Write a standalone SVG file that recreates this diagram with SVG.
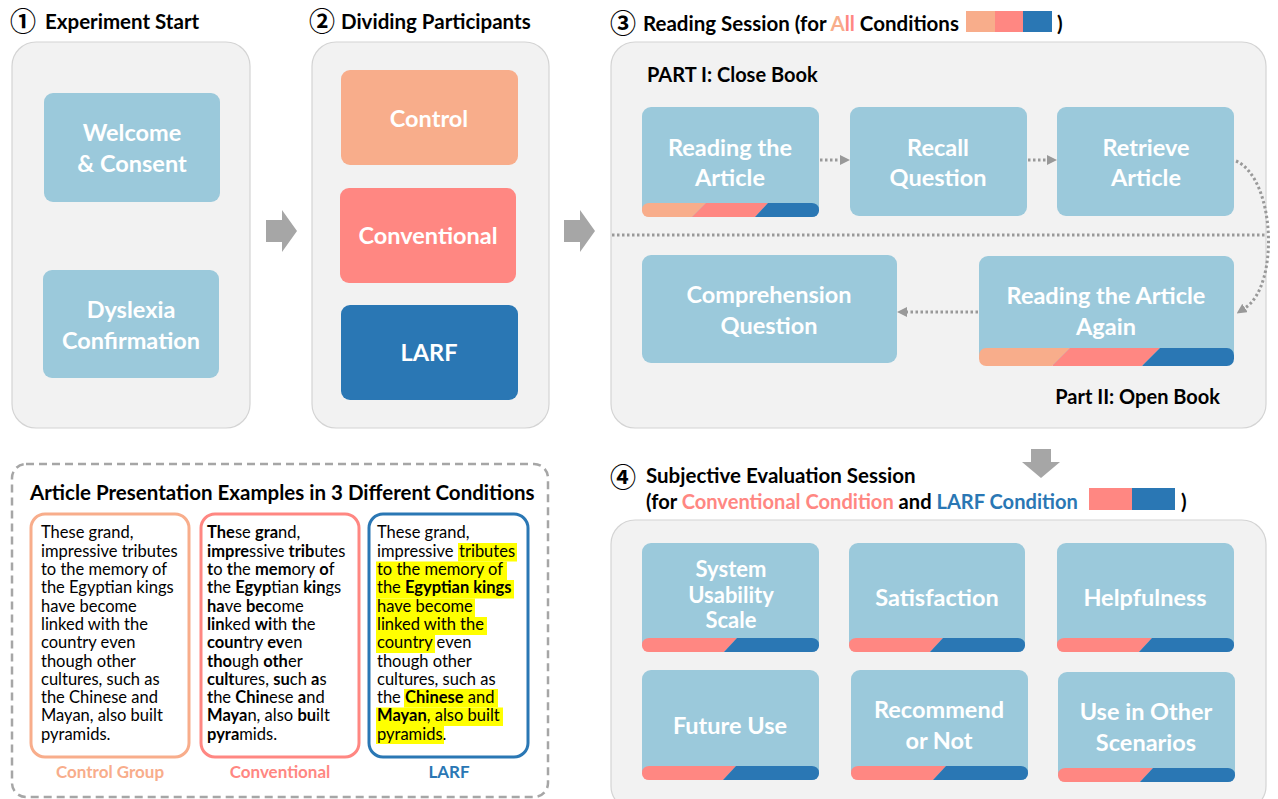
<svg xmlns="http://www.w3.org/2000/svg" width="1278" height="799" viewBox="0 0 1278 799">
<defs>
<style>
text{font-family:Lato,"Open Sans","Noto Sans",sans-serif}
.panel{fill:#f2f2f2;stroke:#d4d4d4;stroke-width:1.2}
.node{fill:#9bc9db}
.nt{fill:#fff;font-weight:700;font-size:23.5px;text-anchor:middle}
.hd{font-weight:700;font-size:20.5px;fill:#000}
.num{font-family:"Noto Sans CJK SC","DejaVu Sans",sans-serif;font-weight:700;font-size:26px;fill:#000}
.dot{fill:none;stroke:#999;stroke-width:3;stroke-dasharray:2.5 2.5}
.big{fill:#a6a6a6}
.art{font-size:16.5px;fill:#000}
.lab{font-size:17px;font-weight:700;text-anchor:middle}
.b{font-weight:700}
.sal{fill:#f8ad8b}
.pnk{fill:#ff8782}
.blu{fill:#2a77b4}
.hl{fill:#ffff00}
</style>
<marker id="ah" viewBox="0 0 10 10" refX="0" refY="5" markerWidth="10" markerHeight="10" markerUnits="userSpaceOnUse" orient="auto"><path d="M0,0 L10,5 L0,10 z" fill="#999"/></marker>
<clipPath id="cs" clipPathUnits="objectBoundingBox"><rect x="0" y="0" width="1" height="1" rx="0.04" ry="0.45"/></clipPath>
<clipPath id="cw" clipPathUnits="objectBoundingBox"><rect x="0" y="0" width="1" height="1" rx="0.028" ry="0.4"/></clipPath>
</defs>
<rect width="1278" height="799" fill="#fff"/>

<!-- headers -->
<g id="header1"><text class="num" x="10" y="31">①</text><text class="hd" x="45" y="29">Experiment Start</text></g>
<g id="header2"><text class="num" x="309" y="31">②</text><text class="hd" x="341" y="29">Dividing Participants</text></g>
<g id="header3"><text class="num" x="610" y="33">③</text><text class="hd" x="643" y="31">Reading Session (for <tspan class="sal">A</tspan><tspan class="pnk">l</tspan><tspan class="pnk">l</tspan> Conditions</text>
<rect x="966" y="11" width="29" height="21" class="sal"/><rect x="995" y="11" width="28" height="21" class="pnk"/><rect x="1023" y="11" width="29" height="21" class="blu"/>
<text class="hd" x="1057" y="31">)</text></g>
<g id="header4"><text class="num" x="610" y="487">④</text><text class="hd" x="646" y="483">Subjective Evaluation Session</text>
<text class="hd" x="646" y="509" style="font-size:20.1px">(for <tspan class="pnk">Conventional Condition</tspan> and <tspan class="blu">LARF Condition</tspan></text>
<rect x="1089" y="488" width="43" height="22" class="pnk"/><rect x="1132" y="488" width="43" height="22" class="blu"/>
<text class="hd" x="1181" y="509">)</text></g>

<!-- panels -->
<rect class="panel" x="12" y="42" width="238" height="386" rx="24"/>
<rect class="panel" x="312" y="42" width="237" height="386" rx="24"/>
<rect class="panel" x="611" y="42" width="655" height="386" rx="24"/>
<rect class="panel" x="611" y="520" width="655" height="290" rx="24"/>

<!-- panel 1 -->
<g id="welcome"><rect class="node" x="44" y="93" width="176" height="109" rx="9"/><text class="nt" x="132" y="141">Welcome</text><text class="nt" x="132" y="172">&amp; Consent</text></g>
<g id="dyslexia"><rect class="node" x="43" y="270" width="176" height="108" rx="9"/><text class="nt" x="131" y="318">Dyslexia</text><text class="nt" x="131" y="349">Confirmation</text></g>

<!-- panel 2 -->
<g id="control"><rect class="sal" x="341" y="70" width="177" height="95" rx="9"/><text class="nt" x="429" y="127">Control</text></g>
<g id="conventional"><rect class="pnk" x="340" y="188" width="176" height="95" rx="9"/><text class="nt" x="428" y="244">Conventional</text></g>
<g id="larf"><rect class="blu" x="341" y="305" width="177" height="95" rx="9"/><text class="nt" x="429" y="361">LARF</text></g>

<!-- panel 3 -->
<text class="hd" x="647" y="82" style="font-size:20px">PART I: Close Book</text>
<text class="hd" x="1220" y="404" style="font-size:20px;text-anchor:end">Part II: Open Book</text>
<g id="reading"><rect class="node" x="642" y="107" width="177" height="110" rx="9"/><text class="nt" x="730" y="156">Reading the</text><text class="nt" x="730" y="186">Article</text>
<g clip-path="url(#cs)"><polygon class="sal" points="642,203 706,203 692,217 642,217"/><polygon class="pnk" points="706,203 768,203 755,217 692,217"/><polygon class="blu" points="768,203 819,203 819,217 755,217"/></g></g>
<g id="recall"><rect class="node" x="850" y="107" width="177" height="109" rx="9"/><text class="nt" x="938" y="156">Recall</text><text class="nt" x="938" y="186">Question</text></g>
<g id="retrieve"><rect class="node" x="1057" y="107" width="177" height="109" rx="9"/><text class="nt" x="1146" y="156">Retrieve</text><text class="nt" x="1146" y="186">Article</text></g>
<g id="comprehension"><rect class="node" x="642" y="255" width="255" height="108" rx="9"/><text class="nt" x="769" y="303">Comprehension</text><text class="nt" x="769" y="334">Question</text></g>
<g id="reading-again"><rect class="node" x="979" y="256" width="255" height="109" rx="9"/><text class="nt" x="1106" y="304">Reading the Article</text><text class="nt" x="1106" y="335">Again</text>
<g clip-path="url(#cw)"><polygon class="sal" points="979,348 1070,348 1052,366 979,366"/><polygon class="pnk" points="1070,348 1160,348 1142,366 1052,366"/><polygon class="blu" points="1160,348 1234,348 1234,366 1142,366"/></g></g>

<!-- panel 4 -->
<g id="sus"><rect class="node" x="642" y="543" width="177" height="109" rx="9"/><text class="nt" x="731" y="577" style="font-size:22px">System</text><text class="nt" x="731" y="603" style="font-size:22px">Usability</text><text class="nt" x="731" y="628" style="font-size:22px">Scale</text>
<g clip-path="url(#cs)"><polygon class="pnk" points="642,638 737,638 724,652 642,652"/><polygon class="blu" points="737,638 819,638 819,652 724,652"/></g></g>
<g id="satisfaction"><rect class="node" x="849" y="543" width="176" height="109" rx="9"/><text class="nt" x="937" y="606">Satisfaction</text>
<g clip-path="url(#cs)"><polygon class="pnk" points="849,638 943,638 930,652 849,652"/><polygon class="blu" points="943,638 1025,638 1025,652 930,652"/></g></g>
<g id="helpfulness"><rect class="node" x="1057" y="543" width="177" height="109" rx="9"/><text class="nt" x="1145" y="606">Helpfulness</text>
<g clip-path="url(#cs)"><polygon class="pnk" points="1057,638 1152,638 1139,652 1057,652"/><polygon class="blu" points="1152,638 1234,638 1234,652 1139,652"/></g></g>
<g id="future"><rect class="node" x="642" y="670" width="177" height="110" rx="9"/><text class="nt" x="730" y="734">Future Use</text>
<g clip-path="url(#cs)"><polygon class="pnk" points="642,766 736,766 723,780 642,780"/><polygon class="blu" points="736,766 819,766 819,780 723,780"/></g></g>
<g id="recommend"><rect class="node" x="851" y="670" width="177" height="110" rx="9"/><text class="nt" x="939" y="718">Recommend</text><text class="nt" x="939" y="749">or Not</text>
<g clip-path="url(#cs)"><polygon class="pnk" points="851,766 946,766 933,780 851,780"/><polygon class="blu" points="946,766 1028,766 1028,780 933,780"/></g></g>
<g id="other"><rect class="node" x="1058" y="672" width="177" height="110" rx="9"/><text class="nt" x="1146" y="720">Use in Other</text><text class="nt" x="1146" y="751">Scenarios</text>
<g clip-path="url(#cs)"><polygon class="pnk" points="1058,768 1153,768 1140,782 1058,782"/><polygon class="blu" points="1153,768 1235,768 1235,782 1140,782"/></g></g>

<!-- connectors -->
<g id="connectors">
<path class="big" d="M266,220 H282 V210 L297,231 L282,252 V242 H266 Z"/>
<path class="big" d="M564,220 H580 V210 L595,231 L580,252 V242 H564 Z"/>
<path class="big" d="M1031,449 H1051 V462 H1060 L1041,478 L1022,462 H1031 Z"/>
<line class="dot" x1="612" y1="235" x2="1265" y2="235"/>
<path class="dot" d="M820,160 H840" marker-end="url(#ah)"/>
<path class="dot" d="M1028,160 H1047" marker-end="url(#ah)"/>
<path class="dot" d="M1236,161 C1275,178 1280,285 1245,308" marker-end="url(#ah)"/>
<path class="dot" d="M978,312 H907" marker-end="url(#ah)"/>
</g>

<!-- article examples -->
<g id="article-examples">
<rect x="12" y="464" width="536" height="333" rx="14" fill="none" stroke="#a6a6a6" stroke-width="2.5" stroke-dasharray="8 5"/>
<text class="hd" x="30" y="500">Article Presentation Examples in 3 Different Conditions</text>
<rect x="31" y="514" width="158" height="243" rx="14" fill="#fff" stroke="#f8ad8b" stroke-width="3"/>
<rect x="201" y="514" width="158" height="243" rx="14" fill="#fff" stroke="#ff8782" stroke-width="3"/>
<rect x="369" y="514" width="159" height="243" rx="14" fill="#fff" stroke="#2a77b4" stroke-width="3"/>
<text class="art">
<tspan x="41" y="538">These grand,</tspan>
<tspan x="41" y="557">impressive tributes</tspan>
<tspan x="41" y="575">to the memory of</tspan>
<tspan x="41" y="593">the Egyptian kings</tspan>
<tspan x="41" y="612">have become</tspan>
<tspan x="41" y="630">linked with the</tspan>
<tspan x="41" y="648">country even</tspan>
<tspan x="41" y="667">though other</tspan>
<tspan x="41" y="685">cultures, such as</tspan>
<tspan x="41" y="703">the Chinese and</tspan>
<tspan x="41" y="721">Mayan, also built</tspan>
<tspan x="41" y="740">pyramids.</tspan>
</text>
<text class="art">
<tspan x="207" y="538"><tspan class="b">The</tspan>se <tspan class="b">gra</tspan>nd,</tspan>
<tspan x="207" y="557"><tspan class="b">impre</tspan>ssive <tspan class="b">trib</tspan>utes</tspan>
<tspan x="207" y="575"><tspan class="b">t</tspan>o <tspan class="b">t</tspan>he <tspan class="b">mem</tspan>ory <tspan class="b">o</tspan>f</tspan>
<tspan x="207" y="593"><tspan class="b">t</tspan>he <tspan class="b">Egyp</tspan>tian <tspan class="b">kin</tspan>gs</tspan>
<tspan x="207" y="612"><tspan class="b">ha</tspan>ve <tspan class="b">bec</tspan>ome</tspan>
<tspan x="207" y="630"><tspan class="b">lin</tspan>ked <tspan class="b">wi</tspan>th <tspan class="b">t</tspan>he</tspan>
<tspan x="207" y="648"><tspan class="b">coun</tspan>try <tspan class="b">ev</tspan>en</tspan>
<tspan x="207" y="667"><tspan class="b">tho</tspan>ugh <tspan class="b">oth</tspan>er</tspan>
<tspan x="207" y="685"><tspan class="b">cult</tspan>ures, <tspan class="b">su</tspan>ch <tspan class="b">a</tspan>s</tspan>
<tspan x="207" y="703"><tspan class="b">t</tspan>he <tspan class="b">Chin</tspan>ese <tspan class="b">a</tspan>nd</tspan>
<tspan x="207" y="721"><tspan class="b">Maya</tspan>n, also <tspan class="b">bu</tspan>ilt</tspan>
<tspan x="207" y="740"><tspan class="b">pyra</tspan>mids.</tspan>
</text>
<g id="larf-highlights">
<rect class="hl" x="458" y="543" width="59" height="18.5"/>
<rect class="hl" x="376" y="561.5" width="131" height="18.5"/>
<rect class="hl" x="376" y="580" width="138" height="18.5"/>
<rect class="hl" x="376" y="598.5" width="99" height="18.5"/>
<rect class="hl" x="376" y="617" width="111" height="18"/>
<rect class="hl" x="376" y="635" width="59" height="18"/>
<rect class="hl" x="404" y="689" width="94" height="18.5"/>
<rect class="hl" x="376" y="707.5" width="127" height="18.5"/>
<rect class="hl" x="376" y="726" width="68" height="18"/>
</g>
<text class="art">
<tspan x="377" y="538">These grand,</tspan>
<tspan x="377" y="557">impressive </tspan><tspan x="459" y="557">tributes</tspan>
<tspan x="377" y="575">to the memory of</tspan>
<tspan x="377" y="593">the <tspan class="b">Egyptian kings</tspan></tspan>
<tspan x="377" y="612">have become</tspan>
<tspan x="377" y="630">linked with the</tspan>
<tspan x="377" y="648">country even</tspan>
<tspan x="377" y="667">though other</tspan>
<tspan x="377" y="685">cultures, such as</tspan>
<tspan x="377" y="703">the </tspan><tspan x="405" y="703"><tspan class="b">Chinese</tspan> and</tspan>
<tspan x="377" y="721"><tspan class="b">Mayan</tspan>, also built</tspan>
<tspan x="377" y="740">pyramids.</tspan>
</text>
<text x="110" y="778" class="lab sal">Control Group</text>
<text x="280" y="778" class="lab pnk">Conventional</text>
<text x="449" y="778" class="lab blu">LARF</text>
</g>
</svg>
